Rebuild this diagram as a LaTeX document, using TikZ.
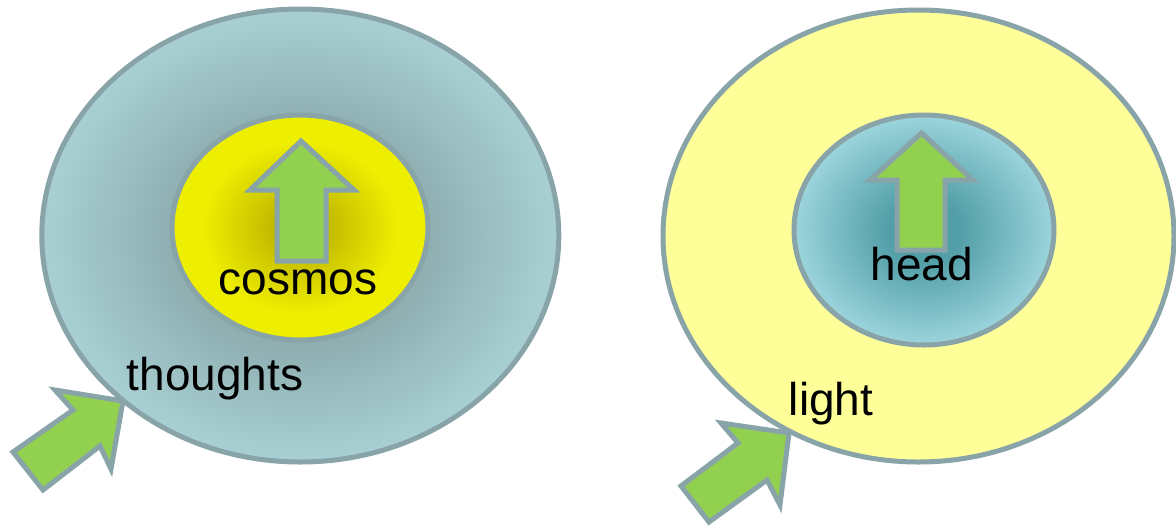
\documentclass[tikz,border=0pt]{standalone}
\usepackage{fontspec}
\setmainfont{Liberation Sans}
\usetikzlibrary{shapes.geometric}
\definecolor{rimgray}{HTML}{88A4A8}
\definecolor{leafgreen}{HTML}{92D050}
\definecolor{paleyellow}{HTML}{FFFF99}
\definecolor{mistA}{HTML}{88A6A8}\definecolor{mistB}{HTML}{A8D0D4}
\definecolor{sunA}{HTML}{BEB400}\definecolor{sunB}{HTML}{EEEE00}
\definecolor{tealA}{HTML}{529FA8}\definecolor{tealB}{HTML}{9CD4DC}
\pgfdeclareradialshading{mistglow}{\pgfpoint{0bp}{0bp}}{color(0bp)=(mistA); color(9bp)=(mistA); color(25bp)=(mistB); color(50bp)=(mistB)}
\pgfdeclareradialshading{sunglow}{\pgfpoint{0bp}{0bp}}{color(0bp)=(sunA); color(4bp)=(sunA); color(19bp)=(sunB); color(50bp)=(sunB)}
\pgfdeclareradialshading{tealglow}{\pgfpoint{0bp}{0bp}}{color(0bp)=(tealA); color(7bp)=(tealA); color(25bp)=(tealB); color(50bp)=(tealB)}
\tikzset{ring/.style={ellipse,draw=rimgray,line width=5pt,inner sep=0pt},
 fatarrow/.style={fill=leafgreen,draw=rimgray,line width=5pt,line join=miter},
 word/.style={anchor=base,inner sep=0pt,font=\fontsize{46}{50}\selectfont}}
\begin{document}
\begin{tikzpicture}[x=1pt,y=-1pt]
\useasboundingbox(0,0)rectangle(1176,528);
\node[ring,shade,shading=mistglow,minimum width=517pt,minimum height=453pt](mindL)at(300.3,235.5){};
\node[ring,shade,shading=sunglow,minimum width=256pt,minimum height=225pt](coreL)at(300,227.5){};
\node[ring,fill=paleyellow,minimum width=511pt,minimum height=452pt](mindR)at(918.5,236){};
\node[ring,shade,shading=tealglow,minimum width=260pt,minimum height=230pt](coreR)at(924,230){};
\draw[fatarrow](301,141)--(354,190)--(326,190)--(326,261)--(277,261)--(277,190)--(250,190)--cycle;
\draw[fatarrow](921.5,133)--(973,180)--(945,180)--(945,250)--(897,250)--(897,180)--(870,180)--cycle;
\draw[fatarrow](123,401)--(111,469)--(100,446)--(43,490)--(13,452)--(73,410)--(55,390)--cycle;
\draw[fatarrow](789,433)--(780,505)--(767,480)--(709,522)--(681,486)--(738,443)--(721,423)--cycle;
\node[word](cosmos)at(298,294){cosmos};\node[word](thoughts)at(215,390){thoughts};
\node[word](head)at(921.7,280){head};\node[word](light)at(831,415){light};
\end{tikzpicture}
\end{document}
